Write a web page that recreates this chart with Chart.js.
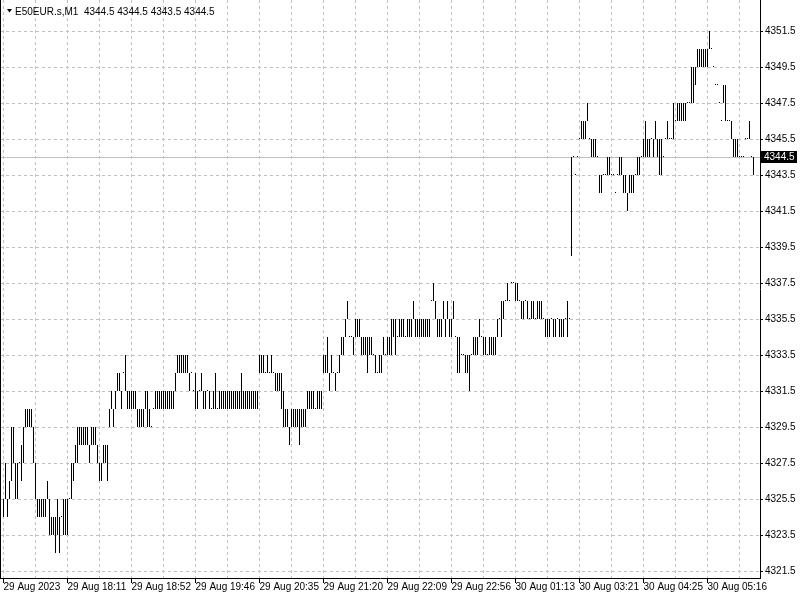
<!DOCTYPE html>
<html>
<head>
<meta charset="utf-8">
<script src="https://cdn.jsdelivr.net/npm/chart.js@4/dist/chart.umd.min.js"></script>
<style>
  body { margin: 0; background: #fff; }
</style>
</head>
<body>
<canvas id="grafico" width="800" height="600"></canvas>
<script>
// ---------- dados
var simbolo = 'E50EUR.s,M1';
var ultimaBarra = [4344.5, 4344.5, 4343.5, 4344.5]; // O H L C
var precoAtual = 4344.5;

var rotulosTempo = ['29 Aug 2023', '29 Aug 18:11', '29 Aug 18:52', '29 Aug 19:46', '29 Aug 20:35',
    '29 Aug 21:20', '29 Aug 22:09', '29 Aug 22:56', '30 Aug 01:13', '30 Aug 03:21',
    '30 Aug 04:25', '30 Aug 05:16'];

var rotulosPreco = [4321.5, 4323.5, 4325.5, 4327.5, 4329.5, 4331.5, 4333.5, 4335.5,
    4337.5, 4339.5, 4341.5, 4343.5, 4345.5, 4347.5, 4349.5, 4351.5];

var minimas = [
    4324.5,4325.5,4324.5,4325.5,4326.5,4327.5,4325.5,4325.5,4327.5,4326.5,
    4327.5,4329.5,4329.5,4329.5,4329.5,4327.5,4325.5,4324.5,4324.5,4324.5,
    4324.5,4324.5,4325.5,4323.5,4323.5,4323.5,4322.5,4323.5,4322.5,4324.5,
    4323.5,4323.5,4323.5,4325.5,4325.5,4326.5,4327.5,4327.5,4328.5,4328.5,
    4328.5,4328.5,4328.5,4327.5,4328.5,4328.5,4328.5,4327.5,4326.5,4326.5,
    4327.5,4327.5,4326.5,4329.5,4330.5,4329.5,4330.5,4331.5,4331.5,4330.5,
    4332.5,4331.5,4330.5,4330.5,4330.5,4330.5,4330.5,4329.5,4329.5,4329.5,
    4329.5,4330.5,4329.5,4329.5,4329.5,4330.5,4330.5,4330.5,4330.5,4330.5,
    4330.5,4330.5,4330.5,4330.5,4330.5,4330.5,4331.5,4332.5,4332.5,4332.5,
    4332.5,4332.5,4332.5,4331.5,4332.5,4331.5,4330.5,4330.5,4331.5,4331.5,
    4330.5,4330.5,4331.5,4330.5,4330.5,4330.5,4330.5,4330.5,4330.5,4330.5,
    4330.5,4330.5,4330.5,4330.5,4330.5,4330.5,4330.5,4330.5,4330.5,4330.5,
    4330.5,4330.5,4330.5,4330.5,4330.5,4330.5,4330.5,4330.5,4332.5,4332.5,
    4332.5,4332.5,4332.5,4332.5,4332.5,4332.5,4331.5,4331.5,4331.5,4330.5,
    4329.5,4329.5,4329.5,4328.5,4329.5,4329.5,4329.5,4329.5,4328.5,4329.5,
    4329.5,4329.5,4330.5,4330.5,4330.5,4330.5,4330.5,4330.5,4330.5,4330.5,
    4332.5,4332.5,4332.5,4331.5,4332.5,4332.5,4331.5,4332.5,4332.5,4333.5,
    4333.5,4334.5,4335.5,4334.5,4334.5,4333.5,4334.5,4334.5,4334.5,4333.5,
    4333.5,4333.5,4332.5,4333.5,4333.5,4333.5,4332.5,4332.5,4332.5,4332.5,
    4333.5,4333.5,4333.5,4333.5,4333.5,4334.5,4333.5,4334.5,4334.5,4334.5,
    4334.5,4334.5,4334.5,4334.5,4334.5,4335.5,4334.5,4334.5,4334.5,4334.5,
    4334.5,4334.5,4334.5,4334.5,4336.5,4336.5,4335.5,4334.5,4334.5,4334.5,
    4335.5,4334.5,4335.5,4334.5,4334.5,4335.5,4334.5,4332.5,4332.5,4333.5,
    4333.5,4332.5,4332.5,4331.5,4333.5,4333.5,4333.5,4333.5,4334.5,4334.5,
    4333.5,4333.5,4333.5,4333.5,4333.5,4333.5,4333.5,4334.5,4335.5,4334.5,
    4335.5,4336.5,4336.5,4336.5,4337.5,4337.5,4336.5,4336.5,4336.5,4335.5,
    4335.5,4336.5,4335.5,4335.5,4335.5,4335.5,4335.5,4335.5,4335.5,4335.5,
    4335.5,4334.5,4334.5,4334.5,4335.5,4334.5,4334.5,4335.5,4334.5,4334.5,
    4334.5,4335.5,4334.5,4335.5,4339.0,4344.5,4343.5,4344.5,4345.5,4345.5,
    4345.5,4345.5,4346.5,4345.5,4344.5,4344.5,4344.5,4344.5,4342.5,4342.5,
    4343.5,4343.5,4343.5,4343.5,4343.5,4343.5,4342.5,4343.5,4343.5,4343.5,
    4342.5,4342.5,4341.5,4342.5,4342.5,4342.5,4343.5,4343.5,4343.5,4344.5,
    4344.5,4344.5,4344.5,4344.5,4345.5,4344.5,4345.5,4344.5,4343.5,4343.5,
    4344.5,4345.5,4345.5,4345.5,4345.5,4345.5,4346.5,4346.5,4346.5,4346.5,
    4346.5,4346.5,4347.5,4347.5,4347.5,4347.5,4348.5,4349.5,4349.5,4349.5,
    4349.5,4349.5,4349.5,4350.5,4350.5,4349.5,4348.5,4348.5,4347.5,4346.5,
    4347.5,4346.5,4346.5,4346.5,4345.5,4344.5,4344.5,4344.5,4344.5,4344.5,
    4344.5,4345.5,4345.5,4345.5,4344.5,4343.5
];

var maximas = [
    4325.5,4327.5,4325.5,4326.5,4329.5,4329.5,4327.5,4327.5,4327.5,4328.5,
    4329.5,4330.5,4330.5,4330.5,4330.5,4329.5,4327.5,4325.5,4325.5,4325.5,
    4325.5,4325.5,4326.5,4325.5,4324.5,4324.5,4324.5,4325.5,4324.5,4324.5,
    4325.5,4325.5,4325.5,4325.5,4327.5,4327.5,4328.5,4329.5,4329.5,4329.5,
    4329.5,4329.5,4329.5,4328.5,4329.5,4329.5,4329.5,4328.5,4327.5,4327.5,
    4328.5,4328.5,4328.5,4330.5,4331.5,4330.5,4331.5,4332.5,4332.5,4331.5,
    4332.5,4333.5,4331.5,4331.5,4331.5,4331.5,4331.5,4330.5,4330.5,4330.5,
    4330.5,4331.5,4331.5,4330.5,4329.5,4330.5,4331.5,4331.5,4331.5,4331.5,
    4331.5,4331.5,4331.5,4331.5,4331.5,4331.5,4332.5,4333.5,4333.5,4333.5,
    4333.5,4333.5,4333.5,4332.5,4332.5,4331.5,4332.5,4331.5,4331.5,4332.5,
    4331.5,4331.5,4331.5,4331.5,4330.5,4331.5,4332.5,4330.5,4331.5,4331.5,
    4331.5,4331.5,4331.5,4331.5,4331.5,4331.5,4331.5,4331.5,4331.5,4332.5,
    4331.5,4331.5,4331.5,4331.5,4331.5,4331.5,4331.5,4331.5,4333.5,4333.5,
    4333.5,4332.5,4333.5,4332.5,4333.5,4332.5,4332.5,4332.5,4332.5,4332.5,
    4331.5,4330.5,4330.5,4329.5,4330.5,4330.5,4330.5,4330.5,4330.5,4330.5,
    4330.5,4330.5,4331.5,4331.5,4331.5,4331.5,4330.5,4331.5,4331.5,4331.5,
    4333.5,4333.5,4334.5,4332.5,4333.5,4332.5,4332.5,4332.5,4333.5,4334.5,
    4334.5,4335.5,4336.5,4334.5,4334.5,4334.5,4335.5,4335.5,4335.5,4334.5,
    4334.5,4334.5,4334.5,4334.5,4334.5,4333.5,4333.5,4332.5,4333.5,4333.5,
    4334.5,4333.5,4334.5,4334.5,4335.5,4335.5,4335.5,4334.5,4335.5,4335.5,
    4335.5,4334.5,4335.5,4335.5,4335.5,4336.5,4335.5,4335.5,4335.5,4335.5,
    4335.5,4335.5,4335.5,4335.5,4336.5,4337.5,4336.5,4335.5,4335.5,4335.5,
    4336.5,4335.5,4336.5,4335.5,4335.5,4336.5,4334.5,4334.5,4334.5,4333.5,
    4333.5,4333.5,4333.5,4333.5,4333.5,4334.5,4334.5,4334.5,4335.5,4334.5,
    4334.5,4334.5,4333.5,4334.5,4334.5,4334.5,4334.5,4335.5,4335.5,4336.5,
    4336.5,4336.5,4337.5,4336.5,4337.5,4337.5,4337.5,4337.5,4336.5,4336.5,
    4336.5,4336.5,4336.5,4335.5,4336.5,4336.5,4335.5,4336.5,4336.5,4336.5,
    4335.5,4335.5,4335.5,4335.5,4335.5,4335.5,4335.5,4335.5,4335.5,4335.5,
    4335.5,4335.5,4336.5,4335.5,4344.5,4344.5,4343.5,4344.5,4345.5,4346.5,
    4346.5,4346.5,4347.5,4345.5,4345.5,4345.5,4345.5,4344.5,4343.5,4343.5,
    4343.5,4343.5,4344.5,4344.5,4343.5,4343.5,4342.5,4343.5,4344.5,4344.5,
    4343.5,4343.5,4342.5,4343.5,4343.5,4343.5,4343.5,4344.5,4344.5,4344.5,
    4345.5,4346.5,4345.5,4345.5,4345.5,4345.5,4346.5,4345.5,4345.5,4345.5,
    4344.5,4345.5,4346.5,4345.5,4345.5,4347.5,4346.5,4347.5,4347.5,4347.5,
    4347.5,4347.5,4347.5,4347.5,4349.5,4349.5,4349.5,4350.5,4350.5,4350.5,
    4350.5,4350.5,4350.5,4351.5,4350.5,4349.5,4348.5,4348.5,4347.5,4346.5,
    4348.5,4348.5,4346.5,4346.5,4346.5,4345.5,4345.5,4345.5,4344.5,4344.5,
    4344.5,4345.5,4345.5,4346.5,4344.5,4344.5
];

// ---------- grafico
Chart.defaults.font.family = 'Liberation Sans';
Chart.defaults.font.size = 10;
Chart.defaults.color = '#000';

var barrasPorRotulo = 32;
var barrasPorGrade = 16;

var pontos = minimas.map(function (baixa, i) {
    return { x: i, y: [baixa, maximas[i]] };
});

var moldura = {
    id: 'moldura',
    beforeDatasetsDraw: function (chart) {
        var ctx = chart.ctx;
        var area = chart.chartArea;
        var y = Math.round(chart.scales.y.getPixelForValue(precoAtual)) + 0.5;
        ctx.save();
        ctx.strokeStyle = '#c0c0c0';
        ctx.lineWidth = 1;
        ctx.beginPath();
        ctx.moveTo(area.left, y);
        ctx.lineTo(area.right, y);
        ctx.stroke();
        ctx.restore();
    },
    afterDraw: function (chart) {
        var ctx = chart.ctx;
        var area = chart.chartArea;
        ctx.save();

        // borda esquerda
        ctx.strokeStyle = '#000';
        ctx.lineWidth = 1;
        ctx.beginPath();
        ctx.moveTo(area.left + 0.5, area.top);
        ctx.lineTo(area.left + 0.5, area.bottom);
        ctx.stroke();

        // cabecalho
        ctx.fillStyle = '#000';
        ctx.beginPath();
        ctx.moveTo(7, 9);
        ctx.lineTo(12, 9);
        ctx.lineTo(9.5, 12.5);
        ctx.closePath();
        ctx.fill();
        ctx.font = '10px "Liberation Sans"';
        ctx.textBaseline = 'alphabetic';
        ctx.textAlign = 'left';
        ctx.fillText(simbolo + '  ' + ultimaBarra.map(function (v) { return v.toFixed(1); }).join(' '), 15, 15);

        // etiqueta do preco atual
        var y = Math.round(chart.scales.y.getPixelForValue(precoAtual));
        ctx.fillStyle = '#000';
        ctx.fillRect(area.right + 1, y - 6, 36, 12);
        ctx.fillStyle = '#fff';
        ctx.textBaseline = 'middle';
        ctx.fillText(precoAtual.toFixed(1), area.right + 4, y + 0.5);
        ctx.restore();
    }
};

var grafico = new Chart(document.getElementById('grafico'), {
    type: 'bar',
    data: {
        datasets: [{
            data: pontos,
            backgroundColor: '#000',
            borderWidth: 0,
            barThickness: 1,
            minBarLength: 1,
            inflateAmount: 0,
            grouped: false
        }]
    },
    options: {
        responsive: false,
        animation: false,
        layout: { padding: 0 },
        plugins: {
            legend: { display: false },
            tooltip: { enabled: false }
        },
        scales: {
            x: {
                type: 'linear',
                offset: false,
                min: -1.75,
                max: 378.25,
                bounds: 'data',
                grid: {
                    offset: false,
                    color: '#c0c0c0',
                    tickLength: 5,
                    tickBorderDash: [],
                    tickColor: function (c) {
                        return c.tick && c.tick.value % barrasPorRotulo === 0 ? '#000' : 'rgba(0,0,0,0)';
                    }
                },
                border: { color: '#000', dash: [3, 3] },
                ticks: {
                    autoSkip: false,
                    maxRotation: 0,
                    align: 'start',
                    padding: -2,
                    callback: function (v) {
                        return v % barrasPorRotulo === 0 ? rotulosTempo[v / barrasPorRotulo] : '';
                    }
                },
                afterBuildTicks: function (scale) {
                    var t = [];
                    for (var i = 0; i < minimas.length; i += barrasPorGrade) t.push({ value: i });
                    scale.ticks = t;
                },
                afterFit: function (scale) {
                    scale.height = 22;
                    scale.paddingLeft = 0;
                    scale.paddingRight = 0;
                }
            },
            y: {
                position: 'right',
                min: 4321.5 - 7 / 18,
                max: 4351.5 + 31 / 18,
                bounds: 'data',
                grid: {
                    color: '#c0c0c0',
                    tickLength: 3,
                    tickColor: '#000',
                    tickBorderDash: []
                },
                border: { color: '#000', dash: [3, 3] },
                ticks: {
                    padding: 2,
                    callback: function (v) { return v.toFixed(1); }
                },
                afterBuildTicks: function (scale) {
                    scale.ticks = rotulosPreco.map(function (v) { return { value: v }; });
                },
                afterFit: function (scale) {
                    scale.width = 40;
                    scale.paddingTop = 0;
                    scale.paddingBottom = 0;
                }
            }
        }
    },
    plugins: [moldura]
});
</script>
</body>
</html>
